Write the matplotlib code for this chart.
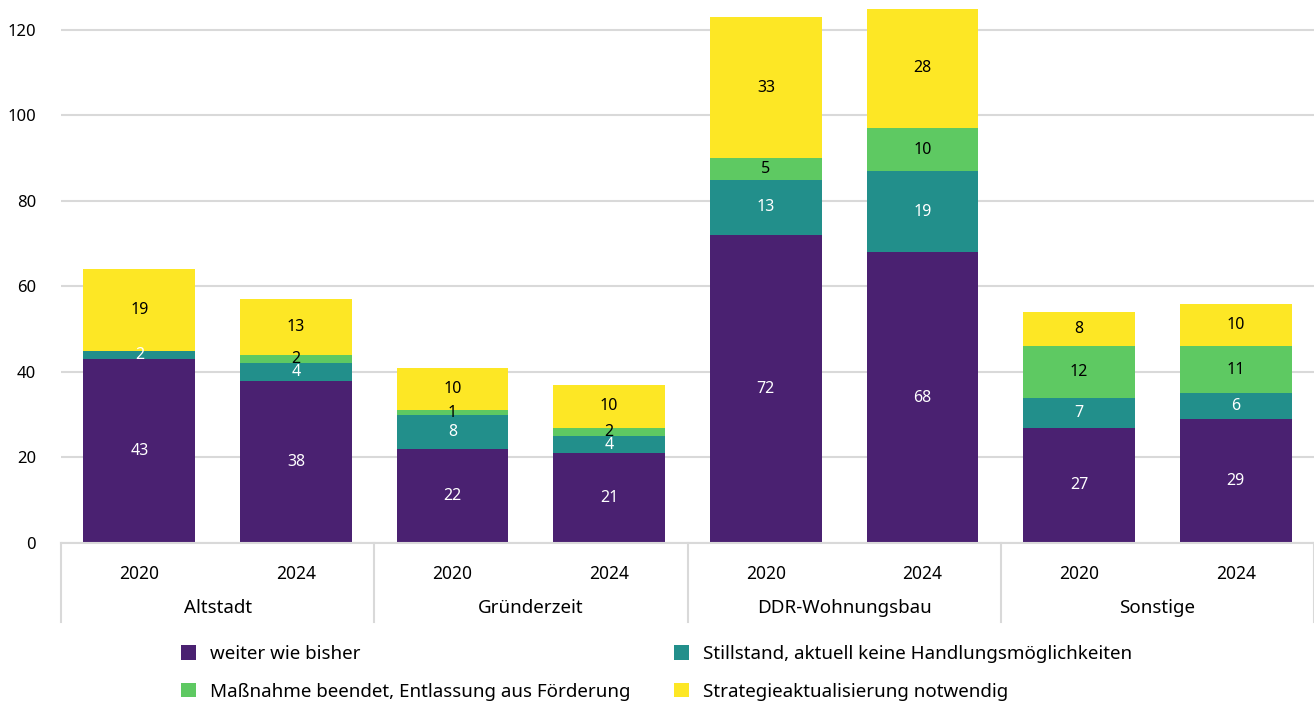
import matplotlib.pyplot as plt
import numpy as np
from matplotlib.lines import Line2D
from matplotlib.patches import Patch

plt.rcParams["font.family"] = ["Noto Sans", "DejaVu Sans"]

groups = ["Altstadt", "Gründerzeit", "DDR-Wohnungsbau", "Sonstige"]
years = ["2020", "2024"]

weiter = [43, 38, 22, 21, 72, 68, 27, 29]
stillstand = [2, 4, 8, 4, 13, 19, 7, 6]
beendet = [0, 2, 1, 2, 5, 10, 12, 11]
strategie = [19, 13, 10, 10, 33, 28, 8, 10]

series = [
    ("weiter wie bisher", weiter, "#4a2171", "white"),
    ("Stillstand, aktuell keine Handlungsmöglichkeiten", stillstand, "#228f8b", "white"),
    ("Maßnahme beendet, Entlassung aus Förderung", beendet, "#5ec962", "black"),
    ("Strategieaktualisierung notwendig", strategie, "#fde725", "black"),
]

W, H = 1314, 704
fig = plt.figure(figsize=(W / 100, H / 100), dpi=100)
ax = fig.add_axes([61 / W, (H - 543) / H, (W - 61) / W, 543 / H])

x = np.arange(len(weiter))
bottom = np.zeros(len(x))
for name, vals, color, tcolor in series:
    vals = np.array(vals, dtype=float)
    ax.bar(x, vals, 0.714, bottom=bottom, color=color, zorder=3)
    for xi, b, v in zip(x, bottom, vals):
        if v > 0:
            ax.text(xi, b + v / 2, f"{int(v)}", ha="center", va="center",
                    fontsize=11.5, color=tcolor, zorder=4)
    bottom += vals

ax.set_xlim(-0.5, 7.5)
ax.set_ylim(0, 127)
ax.set_yticks(range(0, 121, 20))
ax.tick_params(axis="y", length=0, labelsize=12, pad=18)
ax.tick_params(axis="x", length=0, labelbottom=False)
ax.yaxis.grid(True, color="#d9d9d9", linewidth=1.5, zorder=0)
for s in ["top", "right", "left"]:
    ax.spines[s].set_visible(False)
ax.spines["bottom"].set_color("#d9d9d9")
ax.spines["bottom"].set_linewidth(1.5)
ax.spines["bottom"].set_zorder(5)

# category axis: years, groups and separators
for xi in x:
    ax.text(xi, -7.2, years[xi % 2], ha="center", va="center", fontsize=12.5,
            clip_on=False)
for gi, g in enumerate(groups):
    ax.text(2 * gi + 0.5, -15.3, g, ha="center", va="center", fontsize=13.5,
            clip_on=False)
for sep in [-0.5, 1.5, 3.5, 5.5, 7.5]:
    ax.add_line(Line2D([sep, sep], [0, -18.5], color="#d9d9d9", linewidth=1.5,
                       clip_on=False))

# legend fills column-wise: put entries so rows read as in the original
order = [0, 2, 1, 3]
handles = [Patch(facecolor=series[i][2], label=series[i][0]) for i in order]
fig.legend(handles=handles, ncol=2, loc="upper left",
           bbox_to_anchor=(164 / W, 1 - 628 / H), frameon=False,
           fontsize=13.5, handlelength=0.8, handleheight=0.8,
           handletextpad=0.75, columnspacing=2.3, labelspacing=1.05)

fig.savefig("out.png", dpi=100)
